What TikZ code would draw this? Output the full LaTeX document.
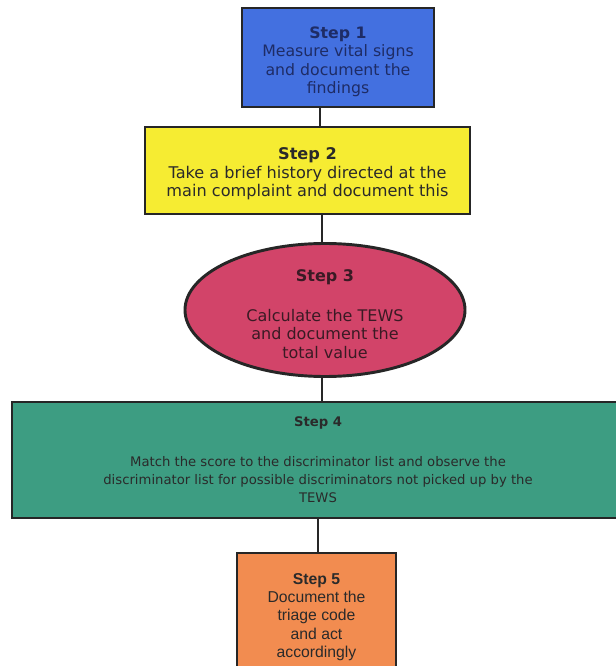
\documentclass[tikz,border=0pt]{standalone}
\usepackage{fontspec}
\setmainfont{DejaVu Sans}
\newfontfamily\arialfont{Liberation Sans}
\usetikzlibrary{shapes.geometric}
\definecolor{cblue}{HTML}{4370E0}
\definecolor{cyellow}{HTML}{F6EC32}
\definecolor{ccrimson}{HTML}{D24469}
\definecolor{cgreen}{HTML}{3D9D82}
\definecolor{corange}{HTML}{F28C50}
\definecolor{cborder}{HTML}{262626}
\definecolor{tblue}{HTML}{1E2C66}
\definecolor{tdark}{HTML}{2A2A2A}
\definecolor{tred}{HTML}{3A1A24}
\tikzset{
  stepbox/.style={draw=cborder, line width=2.2pt, align=center, inner sep=0pt},
  link/.style={draw=cborder, line width=2.2pt}
}
\begin{document}
\begin{tikzpicture}[x=0.75pt,y=-0.75pt]
\useasboundingbox[fill=white] (0,0) rectangle (616,666);
\node[stepbox, fill=cblue, text=tblue, minimum width=192*0.75pt, minimum height=99*0.75pt, font=\fontsize{11.8}{13.8}\selectfont] (s1) at (338,57.5)
  {\rule{0pt}{15pt}\textbf{Step 1}\\Measure vital signs\\and document the\\findings};
\node[stepbox, fill=cyellow, text=tdark, minimum width=325*0.75pt, minimum height=87*0.75pt, font=\fontsize{12.1}{13.8}\selectfont] (s2) at (307.5,170.5)
  {\rule{0pt}{14pt}\textbf{Step 2}\\Take a brief history directed at the\\main complaint and document this};
\node[stepbox, ellipse, inner ysep=-2.2pt, fill=ccrimson, text=tred, minimum width=280*0.75pt, minimum height=133*0.75pt, font=\fontsize{12}{13.8}\selectfont] (s3) at (325,310)
  {\rule{0pt}{15pt}\textbf{Step 3}\\[16pt]Calculate the TEWS\\and document the\\total value};
\node[stepbox, fill=cgreen, text=tdark, minimum width=612*0.75pt, minimum height=116*0.75pt, font=\fontsize{9.9}{13.6}\selectfont] (s4) at (318,460)
  {\textbf{Step 4}\\[16pt]Match the score to the discriminator list and observe the\\discriminator list for possible discriminators not picked up by the\\TEWS};
\node[stepbox, fill=corange, text=tdark, minimum width=159*0.75pt, minimum height=128*0.75pt, font=\arialfont\fontsize{11.8}{13.8}\selectfont] (s5) at (316.5,617)
  {\textbf{Step 5}\\Document the\\triage code\\and act\\accordingly};
\path[link] (s1.south -| 320,0) -- (s2.north -| 320,0);
\path[link] (s2.south -| 322,0) -- (s3.north -| 322,0);
\path[link] (s3.south -| 322,0) -- (s4.north -| 322,0);
\path[link] (s4.south -| 318,0) -- (s5.north -| 318,0);
\end{tikzpicture}
\end{document}
